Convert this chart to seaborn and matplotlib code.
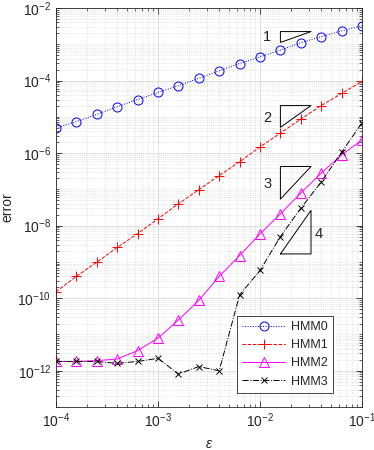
import matplotlib
matplotlib.use('Agg')
import matplotlib.pyplot as plt
import matplotlib.ticker as mticker
import numpy as np
import pandas as pd
import seaborn as sns

# data
eps = [1e-4, 1.585e-4, 2.512e-4, 3.981e-4, 6.310e-4,
       1e-3, 1.585e-3, 2.512e-3, 3.981e-3, 6.310e-3,
       1e-2, 1.585e-2, 2.512e-2, 3.981e-2, 6.310e-2, 1e-1]
hmm0 = [4.9e-6, 7.4e-6, 1.17e-5, 1.9e-5, 3.0e-5, 4.7e-5, 7.2e-5, 1.15e-4,
        1.86e-4, 2.95e-4, 4.5e-4, 6.9e-4, 1.1e-3, 1.62e-3, 2.34e-3, 3.24e-3]
hmm1 = [1.5e-10, 4.0e-10, 9.8e-10, 2.5e-9, 6.0e-9, 1.55e-8, 4.0e-8, 9.8e-8,
        2.4e-7, 5.75e-7, 1.48e-6, 3.55e-6, 8.7e-6, 2.04e-5, 4.4e-5, 9.5e-5]
hmm2 = [1.8e-12, 1.8e-12, 1.9e-12, 2.1e-12, 3.6e-12, 7.9e-12, 2.5e-11, 8.7e-11,
        4.0e-10, 1.5e-9, 5.9e-9, 2.1e-8, 7.9e-8, 2.8e-7, 8.9e-7, 2.3e-6]
hmm3 = [1.8e-12, 1.8e-12, 1.8e-12, 1.6e-12, 1.8e-12, 2.2e-12, 8.1e-13, 1.3e-12,
        1.0e-12, 1.23e-10, 5.8e-10, 5.0e-9, 3.0e-8, 1.6e-7, 1.05e-6, 6.9e-6]

# slope triangles: order, left/right x, reference y
tri_slopes = [1, 2, 3, 4]
tri_x = [10**-1.8, 10**-1.5]
tri_y = [10**-2.65, 10**-4.69, 10**-6.37, 10**-8.78]
tri_label_x = [10**-1.93, 10**-1.93, 10**-1.93, 10**-1.42]
tri_label_y = [10**-2.79, 10**-5.02, 10**-6.86, 10**-8.23]

sns.set_style('ticks')
plt.rcParams['font.family'] = ['Liberation Sans', 'DejaVu Sans']
plt.rcParams['mathtext.fontset'] = 'custom'
plt.rcParams['mathtext.rm'] = 'Liberation Sans'
plt.rcParams['mathtext.it'] = 'Liberation Sans:italic'

fig = plt.figure(figsize=(3.74, 4.5), dpi=100)
ax = fig.add_axes([56 / 374, 1 - 407 / 450, 306 / 374, 399 / 450])
ax.set_xscale('log')
ax.set_yscale('log')

styles = [
    ('HMM0', hmm0, '#0000ff', 'o', ':', 6.5),
    ('HMM1', hmm1, '#ff0000', '+', '--', 6.5),
    ('HMM2', hmm2, '#ff00ff', '^', '-', 7),
    ('HMM3', hmm3, '#000000', 'x', '-.', 5),
]
for name, vals, c, m, ls, ms in styles:
    df = pd.DataFrame({'eps': eps, 'err': vals})
    sns.lineplot(data=df, x='eps', y='err', ax=ax, color=c, marker=m,
                 linestyle=ls, linewidth=0.7, markersize=ms,
                 markerfacecolor='none', markeredgecolor=c,
                 markeredgewidth=0.7, label=name)

for s, y0, lx, ly in zip(tri_slopes, tri_y, tri_label_x, tri_label_y):
    x1, x2 = tri_x
    if s < 4:
        # top-left corner, hypotenuse rising to the right
        ylow = y0 / (x2 / x1) ** s
        px = [x1, x2, x1, x1]
        py = [y0, y0, ylow, y0]
    else:
        ytop = y0 * (x2 / x1) ** s
        px = [x1, x2, x2, x1]
        py = [y0, y0, ytop, y0]
    ax.plot(px, py, color='k', linewidth=0.7)
    ax.text(lx, ly, str(s), fontsize=10.5, ha='center', va='center')

ax.set_xlim(1e-4, 1e-1)
ax.set_ylim(1e-13, 1e-2)
ax.yaxis.set_major_locator(mticker.FixedLocator([10.0**k for k in range(-12, -1, 2)]))
ax.yaxis.set_minor_locator(mticker.LogLocator(base=10, subs=np.arange(1, 10), numticks=30))
ax.yaxis.set_minor_formatter(mticker.NullFormatter())
ax.xaxis.set_minor_locator(mticker.LogLocator(base=10, subs=np.arange(2, 10), numticks=30))
ax.xaxis.set_minor_formatter(mticker.NullFormatter())

ax.grid(which='major', color='#dcdcdc', linewidth=0.6, linestyle='-')
ax.grid(which='minor', color='#d0d0d0', linewidth=0.5, linestyle=':')
ax.set_axisbelow(True)

ax.tick_params(which='both', direction='in', top=True, right=True,
               colors='#262626', labelsize=10)
ax.tick_params(which='major', length=4, width=0.6)
ax.tick_params(which='minor', length=2, width=0.5)
for sp in ax.spines.values():
    sp.set_color('#262626')
    sp.set_linewidth(0.6)

ax.set_xlabel(r'$\varepsilon$', fontsize=10, color='#262626', labelpad=5)
ax.set_ylabel('error', fontsize=10, color='#262626', labelpad=2)

leg = ax.legend(loc='lower right', bbox_to_anchor=(0.905, 0.036),
                fontsize=9, frameon=True, fancybox=False,
                edgecolor='#262626', framealpha=1, handlelength=3.4,
                borderaxespad=0, borderpad=0.4, labelspacing=0.5,
                handletextpad=0.5)
leg.get_frame().set_linewidth(0.6)

fig.savefig('out.png', dpi=100)
